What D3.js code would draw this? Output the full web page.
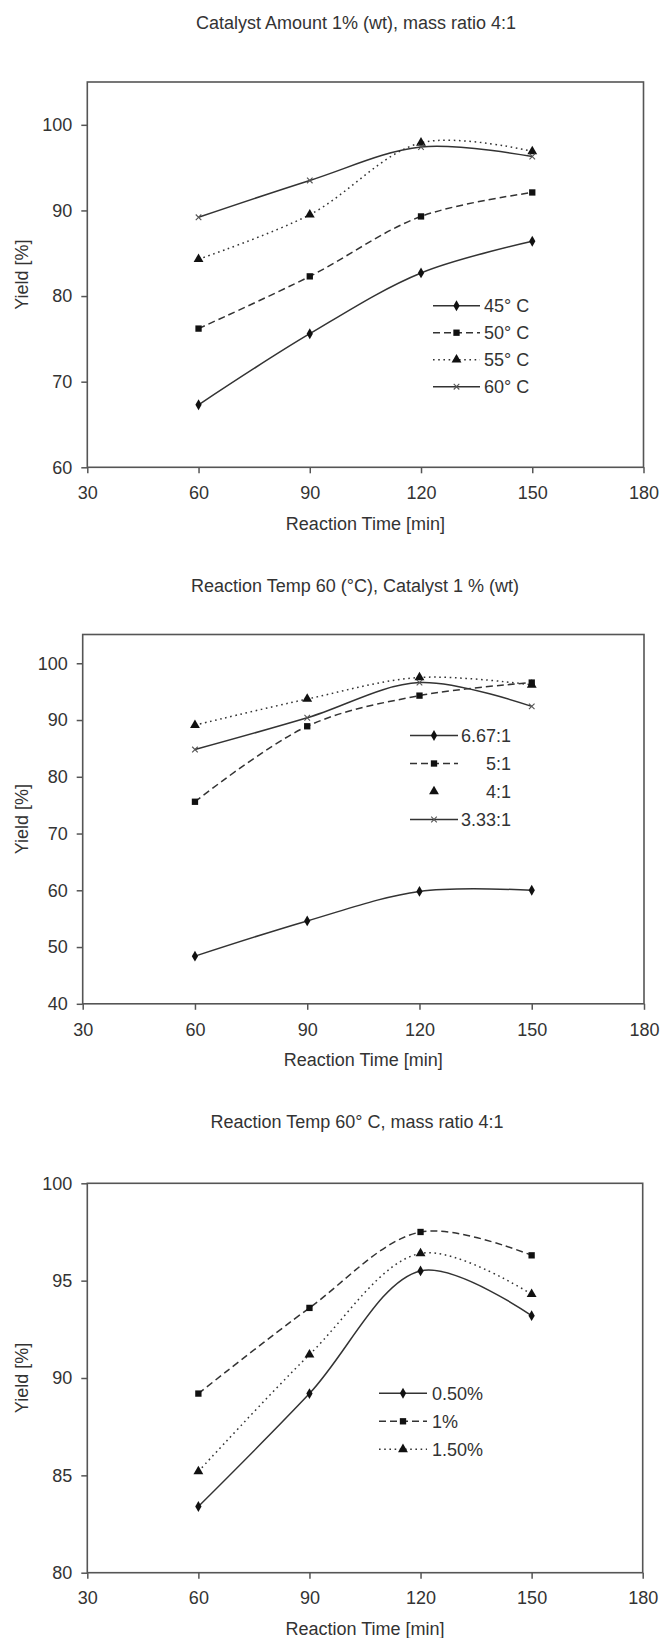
<!DOCTYPE html>
<html>
<head>
<meta charset="utf-8">
<script src="https://cdn.jsdelivr.net/npm/d3@7"></script>
<style>
  html, body { margin: 0; padding: 0; background: #fff; }
  svg { display: block; }
  text { font-family: "Liberation Sans", Arial, sans-serif; fill: #333; }
</style>
</head>
<body>
<svg id="chart" width="660" height="1638"></svg>
<script>
// ---------- data ----------
const times = [60, 90, 120, 150];
const xTicks = [30, 60, 90, 120, 150, 180];

// Chart 1: Catalyst Amount 1% (wt), mass ratio 4:1
const c1Title = "Catalyst Amount 1% (wt), mass ratio 4:1";
const c1Labels = ["45° C", "50° C", "55° C", "60° C"];
const c1_45 = [67.3, 75.6, 82.7, 86.4];
const c1_50 = [76.2, 82.3, 89.3, 92.1];
const c1_55 = [84.3, 89.5, 97.9, 96.9];
const c1_60 = [89.2, 93.5, 97.4, 96.3];
const c1YTicks = [60, 70, 80, 90, 100];

// Chart 2: Reaction Temp 60 (°C), Catalyst 1 % (wt)
const c2Title = "Reaction Temp 60 (°C), Catalyst 1 % (wt)";
const c2Labels = ["6.67:1", "5:1", "4:1", "3.33:1"];
const c2_667 = [48.4, 54.6, 59.8, 60.0];
const c2_5 = [75.6, 88.9, 94.3, 96.6];
const c2_4 = [89.1, 93.7, 97.5, 96.2];
const c2_333 = [84.8, 90.4, 96.6, 92.4];
const c2YTicks = [40, 50, 60, 70, 80, 90, 100];

// Chart 3: Reaction Temp 60° C, mass ratio 4:1
const c3Title = "Reaction Temp 60° C, mass ratio 4:1";
const c3Labels = ["0.50%", "1%", "1.50%"];
const c3_050 = [83.4, 89.2, 95.5, 93.2];
const c3_1 = [89.2, 93.6, 97.5, 96.3];
const c3_150 = [85.2, 91.2, 96.4, 94.3];
const c3YTicks = [80, 85, 90, 95, 100];

const xLabel = "Reaction Time [min]";
const yLabel = "Yield [%]";

// ---------- styles ----------
const LINE = "#333";
const styles = {
  solid:  { dash: null },
  dashed: { dash: "7,4" },
  dotted: { dash: "1.6,3.6" },
};
const markers = {
  diamond:  { type: d3.symbolDiamond, size: 34, stroke: false },
  square:   { type: d3.symbolSquare, size: 40, stroke: false },
  triangle: { type: d3.symbolTriangle, size: 42, stroke: false },
  x:        { type: d3.symbolX, size: 22, stroke: true },
};

const svg = d3.select("#chart");

function drawChart(cfg) {
  const g = svg.append("g");
  const x = d3.scaleLinear().domain([30, 180]).range([cfg.left, cfg.right]);
  const y = d3.scaleLinear().domain(cfg.yDomain).range([cfg.bottom, cfg.top]);

  // title
  g.append("text")
    .attr("x", cfg.titleX).attr("y", cfg.titleY).attr("dy", "0.35em")
    .attr("text-anchor", "middle").style("font-size", "18px")
    .text(cfg.title);

  // axes
  const xa = g.append("g").attr("transform", `translate(0,${cfg.bottom})`)
    .call(d3.axisBottom(x).tickValues(xTicks).tickSize(6).tickPadding(13).tickSizeOuter(0));
  const ya = g.append("g").attr("transform", `translate(${cfg.left},0)`)
    .call(d3.axisLeft(y).tickValues(cfg.yTicks).tickSize(6).tickPadding(9).tickSizeOuter(0));
  [xa, ya].forEach(a => {
    a.select(".domain").remove();
    a.selectAll(".tick line").attr("stroke", "#555").attr("stroke-width", 1.5);
    a.selectAll(".tick text").style("font-size", "18px").attr("fill", "#333")
      .style("font-family", '"Liberation Sans", Arial, sans-serif');
  });

  // plot border
  g.append("rect")
    .attr("x", cfg.left).attr("y", cfg.top)
    .attr("width", cfg.right - cfg.left).attr("height", cfg.bottom - cfg.top)
    .attr("fill", "none").attr("stroke", "#555").attr("stroke-width", 1.6);

  // axis titles
  g.append("text")
    .attr("x", (cfg.left + cfg.right) / 2).attr("y", cfg.bottom + 56).attr("dy", "0.35em")
    .attr("text-anchor", "middle").style("font-size", "18px").text(xLabel);
  g.append("text")
    .attr("transform", `translate(22,${(cfg.top + cfg.bottom) / 2}) rotate(-90)`)
    .attr("dy", "0.35em")
    .attr("text-anchor", "middle").style("font-size", "18px").text(yLabel);

  // series
  const line = d3.line().x((d, i) => x(times[i])).y(d => y(d)).curve(d3.curveCatmullRom.alpha(0.5));
  cfg.series.forEach(s => {
    g.append("path")
      .attr("d", line(s.values))
      .attr("fill", "none").attr("stroke", s.color || LINE)
      .attr("stroke-width", 1.5)
      .attr("stroke-dasharray", styles[s.style].dash);
    const m = markers[s.marker];
    const sym = d3.symbol().type(m.type).size(m.size);
    g.selectAll(null).data(s.values).enter().append("path")
      .attr("d", sym)
      .attr("transform", (d, i) => `translate(${x(times[i])},${y(d)})`)
      .attr("fill", m.stroke ? "none" : "#111")
      .attr("stroke", m.stroke ? "#555" : "none")
      .attr("stroke-width", 1.1);
  });

  // legend
  const L = cfg.legend;
  cfg.series.forEach((s, i) => {
    const yy = L.y0 + i * L.dy;
    if (!s.legendNoLine) {
      g.append("line")
        .attr("x1", L.x1).attr("x2", L.x2).attr("y1", yy).attr("y2", yy)
        .attr("stroke", s.color || LINE).attr("stroke-width", 1.5)
        .attr("stroke-dasharray", styles[s.style].dash);
    }
    const m = markers[s.marker];
    g.append("path")
      .attr("d", d3.symbol().type(m.type).size(m.size))
      .attr("transform", `translate(${(L.x1 + L.x2) / 2},${yy})`)
      .attr("fill", m.stroke ? "none" : "#111")
      .attr("stroke", m.stroke ? "#555" : "none")
      .attr("stroke-width", 1.1);
    g.append("text")
      .attr("x", L.tx).attr("y", yy).attr("dy", "0.35em")
      .attr("text-anchor", L.anchor).style("font-size", "18px")
      .text(s.label);
  });
}

drawChart({
  title: c1Title, titleX: 356, titleY: 22.5,
  left: 87.3, right: 643.5, top: 82, bottom: 467.3,
  yDomain: [60, 105], yTicks: c1YTicks,
  series: [
    { label: c1Labels[0], values: c1_45, style: "solid", marker: "diamond" },
    { label: c1Labels[1], values: c1_50, style: "dashed", marker: "square" },
    { label: c1Labels[2], values: c1_55, style: "dotted", marker: "triangle" },
    { label: c1Labels[3], values: c1_60, style: "solid", marker: "x" },
  ],
  legend: { x1: 433, x2: 480, tx: 484, anchor: "start", y0: 305.7, dy: 27 },
});

drawChart({
  title: c2Title, titleX: 355, titleY: 585.7,
  left: 82.7, right: 644, top: 634.5, bottom: 1003.8,
  yDomain: [40, 105.07], yTicks: c2YTicks,
  series: [
    { label: c2Labels[0], values: c2_667, style: "solid", marker: "diamond" },
    { label: c2Labels[1], values: c2_5, style: "dashed", marker: "square" },
    { label: c2Labels[2], values: c2_4, style: "dotted", marker: "triangle", legendNoLine: true },
    { label: c2Labels[3], values: c2_333, style: "solid", marker: "x" },
  ],
  legend: { x1: 410, x2: 458, tx: 511, anchor: "end", y0: 735.5, dy: 28 },
});

drawChart({
  title: c3Title, titleX: 357, titleY: 1121.7,
  left: 87.3, right: 642.7, top: 1183.3, bottom: 1572.7,
  yDomain: [80, 100], yTicks: c3YTicks,
  series: [
    { label: c3Labels[0], values: c3_050, style: "solid", marker: "diamond" },
    { label: c3Labels[1], values: c3_1, style: "dashed", marker: "square" },
    { label: c3Labels[2], values: c3_150, style: "dotted", marker: "triangle" },
  ],
  legend: { x1: 379, x2: 427, tx: 432, anchor: "start", y0: 1393.3, dy: 28 },
});
</script>
</body>
</html>
